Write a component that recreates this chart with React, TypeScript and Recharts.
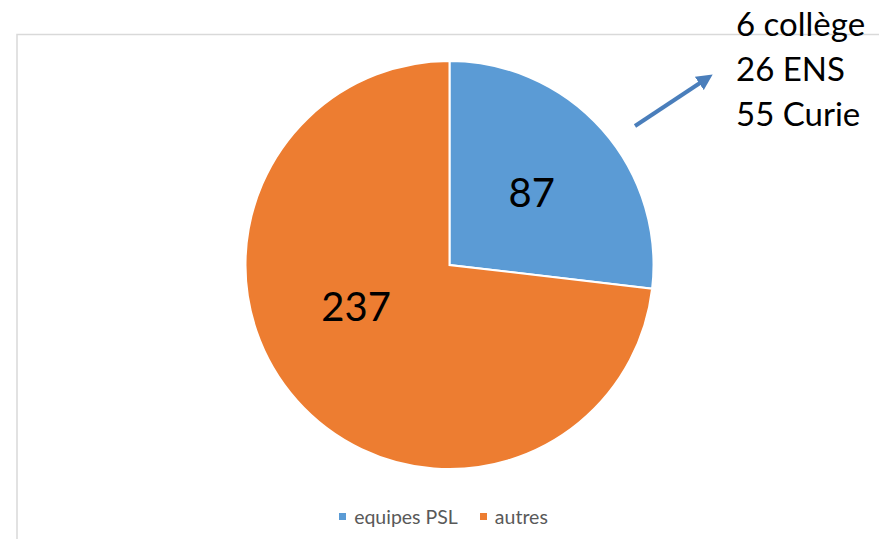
import { PieChart, Pie, Cell, Legend } from 'recharts';

const categories = ['equipes PSL', 'autres'];
const counts = [87, 237];
const colors = ['#5B9BD5', '#ED7D31'];
const noteLines = ['6 collège', '26 ENS', '55 Curie'];

// Excel "best fit" label placement: fraction of radius + small angle nudge
const labelRadius = [0.54, 0.5];
const labelAngleShift = [0, -18];

const data = categories.map((name, i) => ({ name, value: counts[i] }));

const FONT = 'Lato, "Open Sans", sans-serif';
const RAD = Math.PI / 180;

function renderLabel(props: any) {
  const { cx, cy, outerRadius, midAngle, index, value } = props;
  const a = (midAngle + labelAngleShift[index]) * RAD;
  const r = outerRadius * labelRadius[index];
  const x = cx + r * Math.cos(a);
  const y = cy - r * Math.sin(a);
  return (
    <text x={x} y={y} textAnchor="middle" dominantBaseline="central" fill="#000" fontSize={40} fontFamily={FONT}>
      {value}
    </text>
  );
}

function renderLegend() {
  return (
    <div style={{ display: 'flex', justifyContent: 'center', alignItems: 'center', fontFamily: FONT, fontSize: 19.5, color: '#595959' }}>
      {categories.map((c, i) => (
        <div key={c} style={{ display: 'flex', alignItems: 'center', marginRight: i === 0 ? 22 : 0 }}>
          <span style={{ width: 7, height: 7, background: colors[i], display: 'inline-block', marginRight: 8 }} />
          <span>{c}</span>
        </div>
      ))}
    </div>
  );
}

export default function App() {
  return (
    <div style={{ position: 'relative', width: 887, height: 547, margin: -8, background: '#fff', overflow: 'hidden' }}>
      <svg width={887} height={547} style={{ position: 'absolute', left: 0, top: 0 }}>
        <rect x={17} y={34.5} width={863} height={530} fill="#fff" stroke="#d9d9d9" strokeWidth={1.5} />
      </svg>
      <div style={{ position: 'absolute', left: 0, top: 0 }}>
        <PieChart width={887} height={547} margin={{ top: 0, right: 0, bottom: 0, left: 0 }}>
          <Pie
            data={data}
            dataKey="value"
            nameKey="name"
            cx={449.5}
            cy={265}
            outerRadius={204}
            startAngle={90}
            endAngle={-270}
            stroke="#fff"
            strokeWidth={2}
            label={renderLabel}
            labelLine={false}
            isAnimationActive={false}
          >
            {data.map((d, i) => (
              <Cell key={d.name} fill={colors[i]} />
            ))}
          </Pie>
          <Legend content={renderLegend} wrapperStyle={{ top: 505, left: 0, width: 887 }} />
        </PieChart>
      </div>
      <svg width={887} height={547} style={{ position: 'absolute', left: 0, top: 0, pointerEvents: 'none' }}>
        <defs>
          <marker id="head" markerWidth="4" markerHeight="4" refX="2" refY="2" orient="auto" markerUnits="strokeWidth">
            <path d="M0,0 L4,2 L0,4 Z" fill="#4A7EBB" />
          </marker>
        </defs>
        <line x1={635} y1={126} x2={706} y2={79} stroke="#4A7EBB" strokeWidth={4} markerEnd="url(#head)" />
        {noteLines.map((t, i) => (
          <text key={t} x={736} y={36 + i * 45} fill="#000" fontSize={33} fontFamily={FONT}>
            {t}
          </text>
        ))}
      </svg>
    </div>
  );
}
